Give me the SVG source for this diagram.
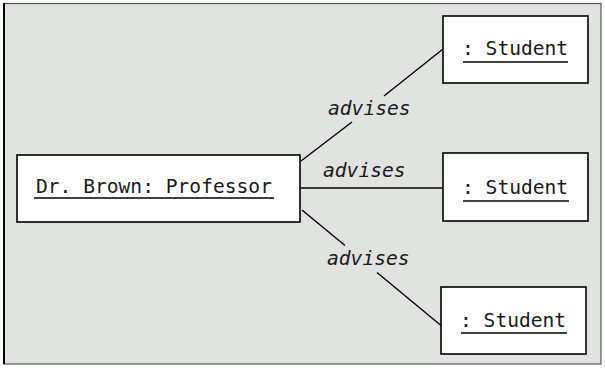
<svg xmlns="http://www.w3.org/2000/svg" width="605" height="370" viewBox="0 0 605 370">
  <style>
    .box { fill: #ffffff; stroke: #000000; stroke-width: 1.6; }
    .lbl { font-family: "DejaVu Sans Mono", "Liberation Mono", monospace; font-size: 19.6px; fill: #1a1a1a; }
    .assoc { font-family: "DejaVu Sans Mono", "Liberation Mono", monospace; font-size: 19.6px; font-style: italic; fill: #1a1a1a; }
    .ul { stroke: #000000; stroke-width: 1.4; }
    .conn line { stroke: #000000; stroke-width: 1.4; }
  </style>
  <rect x="4" y="3.5" width="597" height="360.5" fill="#e1e3e0" stroke="#555555" stroke-width="1.2"/>
  <line x1="4" y1="3" x2="4" y2="364" stroke="#000000" stroke-width="2"/>

  <g id="connectors" class="conn">
    <line x1="301" y1="161" x2="352" y2="122"/>
    <line x1="384" y1="96" x2="443" y2="49"/>
    <line x1="301" y1="188" x2="443" y2="188"/>
    <line x1="302" y1="210" x2="345" y2="245.5"/>
    <line x1="377" y1="272.5" x2="441" y2="325.5"/>
  </g>

  <g id="labels">
    <text class="assoc" x="328" y="115">advises</text>
    <text class="assoc" x="323" y="177">advises</text>
    <text class="assoc" x="327" y="265">advises</text>
  </g>

  <g id="professor">
    <rect class="box" x="17" y="155" width="283" height="67"/>
    <text class="lbl" x="36" y="193">Dr. Brown: Professor</text>
    <line class="ul" x1="34" y1="198" x2="274" y2="198"/>
  </g>

  <g id="student1">
    <rect class="box" x="443" y="16" width="145" height="67"/>
    <text class="lbl" x="462" y="55">: Student</text>
    <line class="ul" x1="463" y1="62" x2="568" y2="62"/>
  </g>

  <g id="student2">
    <rect class="box" x="443" y="153" width="145" height="68"/>
    <text class="lbl" x="462" y="194">: Student</text>
    <line class="ul" x1="463" y1="201" x2="569" y2="201"/>
  </g>

  <g id="student3">
    <rect class="box" x="441" y="287" width="145" height="67"/>
    <text class="lbl" x="460" y="327">: Student</text>
    <line class="ul" x1="461" y1="333" x2="567" y2="333"/>
  </g>
</svg>
